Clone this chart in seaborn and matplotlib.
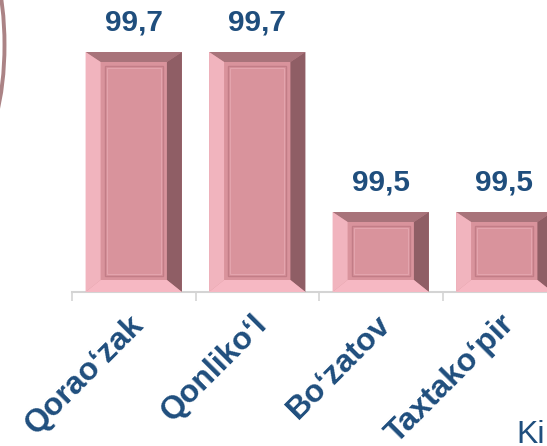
import matplotlib
matplotlib.use("Agg")
import matplotlib.pyplot as plt
import seaborn as sns
import pandas as pd
from matplotlib.patches import Polygon, Rectangle, Ellipse
from matplotlib.transforms import ScaledTranslation

# ---- data ----
categories = ["Qorao\u2018zak", "Qonliko\u2018l", "Bo\u2018zatov", "Taxtako\u2018pir"]
values = [99.7, 99.7, 99.5, 99.5]
value_labels = ["99,7", "99,7", "99,5", "99,5"]
axis_title_fragment = "Ki"

sns.set_theme(style="white")
plt.rcParams["font.family"] = ["Liberation Sans", "DejaVu Sans"]

W, H = 547, 446
fig = plt.figure(figsize=(W / 100, H / 100), dpi=100)
ax_l, ax_b, ax_w, ax_h = 72, 154, 494, 320
ax = fig.add_axes([ax_l / W, ax_b / H, ax_w / W, ax_h / H])

df = pd.DataFrame({"cat": categories, "val": values})
BASE = "#d9939c"
sns.barplot(data=df, x="cat", y="val", color=BASE, width=0.78, saturation=1,
            ax=ax, zorder=2)
ax.set_xlim(-0.5, 3.5)
ylo, yhi = 99.4, 99.8
ax.set_ylim(ylo, yhi)

# pixel -> data conversions
xpp = (3.5 - -0.5) / ax_w
ypp = (yhi - ylo) / ax_h
bx = 15 * xpp
bt = 10 * ypp
bb = 12 * ypp
fi = 4  # inner frame inset px

for p in ax.patches:
    x0 = p.get_x(); x1 = x0 + p.get_width()
    y1 = p.get_height(); y0 = ylo
    p.set_facecolor(BASE); p.set_edgecolor("none")
    top = Polygon([(x0, y1), (x1, y1), (x1 - bx, y1 - bt), (x0 + bx, y1 - bt)],
                  closed=True, fc="#a8737a", ec="none", zorder=3)
    right = Polygon([(x1, y1), (x1, y0), (x1 - bx, y0 + bb), (x1 - bx, y1 - bt)],
                    closed=True, fc="#8f5e65", ec="none", zorder=3)
    left = Polygon([(x0, y1), (x0 + bx, y1 - bt), (x0 + bx, y0 + bb), (x0, y0)],
                   closed=True, fc="#f1b4be", ec="none", zorder=3)
    bottom = Polygon([(x0, y0), (x0 + bx, y0 + bb), (x1 - bx, y0 + bb), (x1, y0)],
                     closed=True, fc="#f6b8c3", ec="none", zorder=3)
    for poly in (top, right, left, bottom):
        ax.add_patch(poly)
    # inner frame
    ix0 = x0 + bx + fi * xpp; ix1 = x1 - bx - fi * xpp
    iy0 = y0 + bb + fi * ypp; iy1 = y1 - bt - fi * ypp
    ax.add_patch(Rectangle((ix0, iy0), ix1 - ix0, iy1 - iy0, fc="none",
                           ec="#c27d87", lw=1.0, zorder=4))
    ax.add_patch(Rectangle((ix0 + 2 * xpp, iy0 + 2 * ypp), ix1 - ix0 - 4 * xpp,
                           iy1 - iy0 - 4 * ypp, fc="none",
                           ec="#e3a4ad", lw=0.8, zorder=4))

BLUE = "#1f4e7d"
ax.bar_label(ax.containers[0], labels=value_labels, padding=11,
             fontsize=21.5, fontweight="bold", color=BLUE, clip_on=False)

# axes styling
for s in ("top", "right", "left"):
    ax.spines[s].set_visible(False)
ax.spines["bottom"].set_color("#d4d4d4")
ax.spines["bottom"].set_linewidth(1.5)
ax.set_yticks([])
ax.set_xlabel(""); ax.set_ylabel("")
ax.set_xticks(range(len(categories)))
ax.set_xticks([i - 0.5 for i in range(len(categories) + 1)], minor=True)
ax.tick_params(axis="x", which="major", length=0, pad=20)
ax.tick_params(axis="x", which="minor", length=6.5, width=1.2, color="#d4d4d4",
               direction="out", bottom=True)
ax.set_xticklabels(categories, rotation=45, ha="right", va="center",
                   rotation_mode="anchor", fontsize=23, fontweight="bold",
                   color=BLUE)
shift = ScaledTranslation(4 / 72, 0, fig.dpi_scale_trans)
for lab in ax.get_xticklabels():
    lab.set_transform(lab.get_transform() + shift)

# partial decorative ellipse at left edge
ell = Ellipse((-24 / W, 1 - 45 / H), 57 / W, 200 / H, transform=fig.transFigure,
              fc="none", ec="#9c6d70", lw=2.8, alpha=0.85)
fig.add_artist(ell)

fig.text(516 / W, 1 - 443 / H, axis_title_fragment, fontsize=23, color=BLUE,
         ha="left", va="baseline")

fig.savefig("out.png", dpi=100)
